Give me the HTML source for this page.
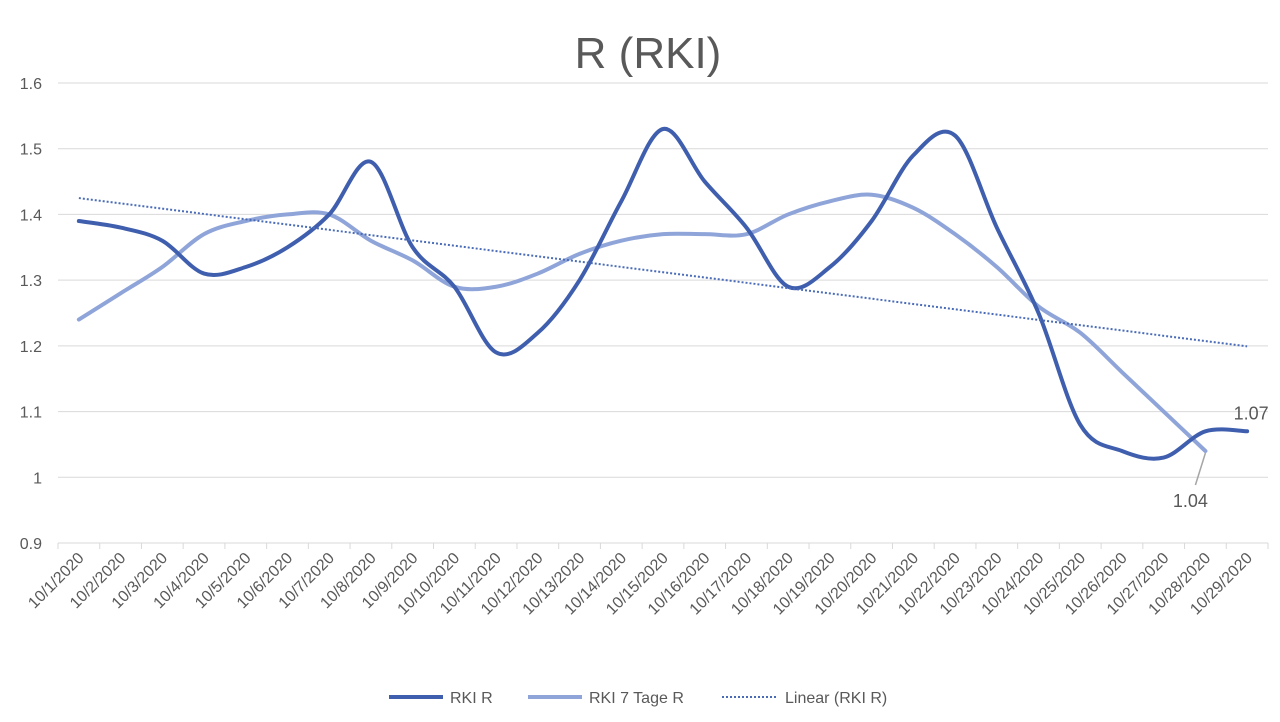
<!DOCTYPE html>
<html><head><meta charset="utf-8"><style>
body{margin:0;background:#fff;}
svg{display:block;font-family:"Liberation Sans",sans-serif;}
</style></head><body>
<svg id="chart" width="1280" height="722" viewBox="0 0 1280 722">
<rect x="0" y="0" width="1280" height="722" fill="#fff"/>
<text x="648" y="68" text-anchor="middle" font-size="44" fill="#595959">R (RKI)</text>
<g id="grid"></g>
<g id="yticks"></g>
<g id="xaxis"></g>
<g id="series"></g>
<g>
<g><line x1="389" y1="697" x2="443" y2="697" stroke="#3f5fae" stroke-width="4"/><text x="450" y="703" font-size="16" fill="#595959">RKI R</text></g>
<g><line x1="528" y1="697" x2="582" y2="697" stroke="#8fa5d9" stroke-width="4"/><text x="589" y="703" font-size="16" fill="#595959">RKI 7 Tage R</text></g>
<g><line x1="722" y1="697" x2="776" y2="697" stroke="#4a6cb8" stroke-width="2" stroke-dasharray="2,2"/><text x="785" y="703" font-size="16" fill="#595959">Linear (RKI R)</text></g>
</g>
</svg>
<script>
const categories = ["10/1/2020","10/2/2020","10/3/2020","10/4/2020","10/5/2020","10/6/2020","10/7/2020","10/8/2020","10/9/2020","10/10/2020","10/11/2020","10/12/2020","10/13/2020","10/14/2020","10/15/2020","10/16/2020","10/17/2020","10/18/2020","10/19/2020","10/20/2020","10/21/2020","10/22/2020","10/23/2020","10/24/2020","10/25/2020","10/26/2020","10/27/2020","10/28/2020","10/29/2020"];
const rkiR = [1.39,1.38,1.36,1.31,1.32,1.35,1.40,1.48,1.35,1.29,1.19,1.22,1.30,1.42,1.53,1.45,1.38,1.29,1.32,1.39,1.49,1.52,1.38,1.25,1.08,1.04,1.03,1.07,1.07];
const rki7 = [1.24,1.28,1.32,1.37,1.39,1.40,1.40,1.36,1.33,1.29,1.29,1.31,1.34,1.36,1.37,1.37,1.37,1.40,1.42,1.43,1.41,1.37,1.32,1.26,1.22,1.16,1.10,1.04];
const yTicks = [0.9,1,1.1,1.2,1.3,1.4,1.5,1.6];
const yTickLabels = ["0.9","1","1.1","1.2","1.3","1.4","1.5","1.6"];

const NS="http://www.w3.org/2000/svg";
const L=58,R=1268,T=83,B=543,yMin=0.9,yMax=1.6;
const step=(R-L)/categories.length;
const xs=i=>L+step*(i+0.5);
const ys=v=>B-(v-yMin)/(yMax-yMin)*(B-T);
function mk(tag,attrs,parent){const e=document.createElementNS(NS,tag);for(const k in attrs)e.setAttribute(k,attrs[k]);parent.appendChild(e);return e;}
const grid=document.getElementById('grid'),yt=document.getElementById('yticks'),xa=document.getElementById('xaxis'),ser=document.getElementById('series');
yTicks.forEach((v,i)=>{
  const ln=mk('line',{x1:L,x2:R,y1:ys(v),y2:ys(v),stroke:'#d9d9d9','stroke-width':1},grid);
  
  
  const t=mk('text',{x:42,y:ys(v)+6,'text-anchor':'end','font-size':16,fill:'#595959'},yt);
  t.textContent=yTickLabels[i];
  
  
});
for(let i=0;i<=categories.length;i++){
  const tk=mk('line',{x1:L+step*i,x2:L+step*i,y1:B,y2:B+6,stroke:'#d9d9d9'},xa);
  
  
}
categories.forEach((c,i)=>{
  const x=xs(i)+6,y=B+16;
  const t=mk('text',{x:x,y:y,'text-anchor':'end','font-size':16,fill:'#595959',transform:`rotate(-45 ${x} ${y})`},xa);
  t.textContent=c;
  
  
});
function smooth(vals){
  const p=vals.map((v,i)=>[xs(i),ys(v)]);
  let d=`M${p[0][0]},${p[0][1]}`;
  for(let i=0;i<p.length-1;i++){
    const p0=p[i-1]||p[i],p1=p[i],p2=p[i+1],p3=p[i+2]||p2;
    const c1=[p1[0]+(p2[0]-p0[0])/6,p1[1]+(p2[1]-p0[1])/6];
    const c2=[p2[0]-(p3[0]-p1[0])/6,p2[1]-(p3[1]-p1[1])/6];
    d+=` C${c1[0]},${c1[1]} ${c2[0]},${c2[1]} ${p2[0]},${p2[1]}`;
  }
  return d;
}
const n=rkiR.length;let sx=0,sy=0,sxy=0,sxx=0;
rkiR.forEach((v,i)=>{sx+=i;sy+=v;sxy+=i*v;sxx+=i*i;});
const slope=(n*sxy-sx*sy)/(n*sxx-sx*sx),icpt=(sy-slope*sx)/n;
const p7=mk('path',{d:smooth(rki7),fill:'none',stroke:'#8fa5d9','stroke-width':4,'stroke-linecap':'round'},ser);


const pr=mk('path',{d:smooth(rkiR),fill:'none',stroke:'#3f5fae','stroke-width':4,'stroke-linecap':'round'},ser);


const tr=mk('line',{x1:xs(0),y1:ys(icpt),x2:xs(n-1),y2:ys(icpt+slope*(n-1)),stroke:'#4a6cb8','stroke-width':2,'stroke-dasharray':'2,2'},ser);


const lr=mk('text',{x:xs(n-1)+4,y:ys(rkiR[n-1])-12,'text-anchor':'middle','font-size':18,fill:'#595959'},ser);
lr.textContent=rkiR[n-1].toFixed(2);


const m=rki7.length-1;
const ll=mk('line',{x1:xs(m),y1:ys(rki7[m])+2,x2:xs(m)-10,y2:ys(rki7[m])+34,stroke:'#a6a6a6','stroke-width':1.5},ser);


const l7=mk('text',{x:xs(m)-15,y:ys(rki7[m])+56,'text-anchor':'middle','font-size':18,fill:'#595959'},ser);
l7.textContent=rki7[m].toFixed(2);


</script>
</body></html>
